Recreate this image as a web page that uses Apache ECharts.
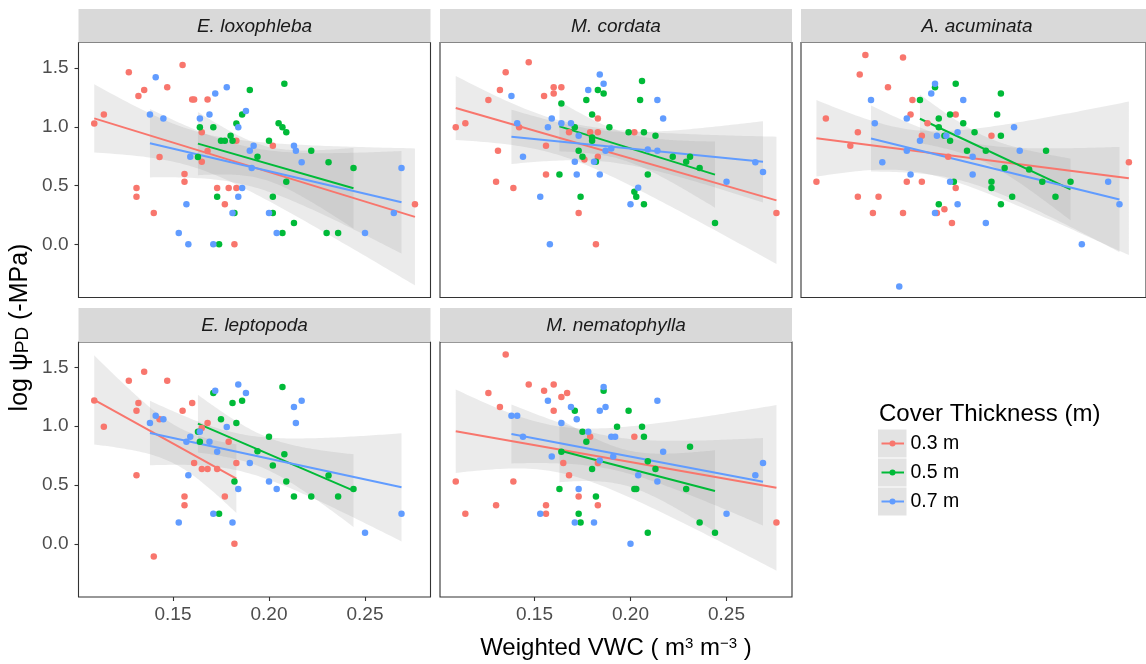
<!DOCTYPE html>
<html><head><meta charset="utf-8">
<script src="https://cdn.jsdelivr.net/npm/echarts@6/dist/echarts.min.js"></script>
<style>html,body{margin:0;padding:0;background:#fff}#c{width:1146px;height:664px}</style>
</head><body><div id="c"></div>
<script>
// ---------- data ----------
const panelNames = ['E. loxophleba', 'M. cordata', 'A. acuminata', 'E. leptopoda', 'M. nematophylla'];
const groupNames = ['0.3 m', '0.5 m', '0.7 m'];
const groupColors = ['#F8766D', '#00BA38', '#619CFF'];
const xTicks = [0.15, 0.20, 0.25];
const yTicks = [0.0, 0.5, 1.0, 1.5];
const legendTitle = 'Cover Thickness (m)';

const lox03 = [[0.109,1.027],[0.114,1.104],[0.127,1.463],[0.155,1.526],[0.135,1.313],[0.132,1.262],[0.147,1.336],[0.160,1.231],[0.161,1.231],[0.168,1.231],[0.165,0.954],[0.183,0.880],[0.202,0.838],[0.143,0.742],[0.165,0.702],[0.168,0.793],[0.156,0.597],[0.156,0.532],[0.131,0.478],[0.131,0.405],[0.140,0.266],[0.173,0.478],[0.179,0.478],[0.183,0.478],[0.177,0.340],[0.182,0.000],[0.276,0.340]];
const lox05 = [[0.208,1.367],[0.190,1.313],[0.186,1.104],[0.183,1.027],[0.164,0.996],[0.171,0.996],[0.205,1.030],[0.207,0.996],[0.209,0.954],[0.180,0.923],[0.175,0.880],[0.177,0.880],[0.181,0.880],[0.200,0.880],[0.222,0.795],[0.194,0.744],[0.163,0.742],[0.231,0.699],[0.244,0.648],[0.209,0.532],[0.173,0.405],[0.202,0.405],[0.182,0.266],[0.202,0.266],[0.213,0.181],[0.207,0.096],[0.230,0.096],[0.236,0.096],[0.174,0.000]];
const lox07 = [[0.141,1.421],[0.178,1.336],[0.172,1.282],[0.188,1.135],[0.138,1.104],[0.145,1.070],[0.169,1.104],[0.164,1.070],[0.184,0.996],[0.192,0.838],[0.190,0.795],[0.213,0.838],[0.214,0.795],[0.159,0.744],[0.217,0.699],[0.191,0.648],[0.269,0.648],[0.186,0.478],[0.184,0.405],[0.157,0.340],[0.181,0.266],[0.200,0.266],[0.265,0.266],[0.153,0.096],[0.204,0.096],[0.250,0.096],[0.158,0.000],[0.171,0.000]];

const cor03 = [[0.147,1.548],[0.135,1.463],[0.132,1.313],[0.126,1.228],[0.155,1.262],[0.160,1.282],[0.160,1.336],[0.164,1.336],[0.183,1.070],[0.109,0.996],[0.114,1.030],[0.142,0.996],[0.168,0.954],[0.179,0.954],[0.183,0.954],[0.202,0.954],[0.156,0.838],[0.131,0.795],[0.176,0.722],[0.183,0.744],[0.156,0.594],[0.130,0.532],[0.139,0.478],[0.173,0.266],[0.182,0.000],[0.276,0.266]];
const cor05 = [[0.206,1.390],[0.183,1.313],[0.186,1.282],[0.164,1.197],[0.177,1.228],[0.205,1.228],[0.180,1.104],[0.171,0.996],[0.189,0.996],[0.199,0.954],[0.207,0.954],[0.213,0.923],[0.180,0.880],[0.180,0.909],[0.173,0.795],[0.175,0.744],[0.182,0.702],[0.163,0.594],[0.209,0.594],[0.222,0.744],[0.231,0.744],[0.229,0.702],[0.236,0.648],[0.174,0.405],[0.202,0.447],[0.203,0.405],[0.207,0.340],[0.244,0.181]];
const cor07 = [[0.184,1.444],[0.186,1.367],[0.178,1.313],[0.138,1.262],[0.214,1.228],[0.217,1.070],[0.159,1.070],[0.141,1.030],[0.157,0.996],[0.164,1.030],[0.169,1.030],[0.173,0.923],[0.190,0.815],[0.187,0.795],[0.209,0.807],[0.214,0.795],[0.144,0.744],[0.171,0.702],[0.181,0.702],[0.172,0.594],[0.184,0.594],[0.204,0.481],[0.153,0.405],[0.200,0.340],[0.250,0.532],[0.265,0.699],[0.269,0.614],[0.158,0.000]];

const acu03 = [[0.135,1.610],[0.155,1.590],[0.132,1.444],[0.147,1.336],[0.160,1.228],[0.159,1.104],[0.183,1.104],[0.114,1.070],[0.168,1.030],[0.131,0.954],[0.165,0.923],[0.202,0.923],[0.127,0.838],[0.179,0.744],[0.275,0.699],[0.109,0.532],[0.157,0.532],[0.165,0.532],[0.183,0.478],[0.131,0.405],[0.142,0.405],[0.139,0.266],[0.155,0.266],[0.173,0.266],[0.177,0.297],[0.181,0.181]];
const acu05 = [[0.183,1.367],[0.172,1.336],[0.207,1.282],[0.164,1.228],[0.180,1.104],[0.205,1.104],[0.174,1.070],[0.187,1.030],[0.174,0.996],[0.193,0.954],[0.177,0.923],[0.180,0.880],[0.207,0.923],[0.189,0.795],[0.199,0.795],[0.231,0.795],[0.209,0.648],[0.222,0.637],[0.229,0.532],[0.202,0.532],[0.202,0.478],[0.182,0.532],[0.213,0.405],[0.236,0.405],[0.174,0.340],[0.207,0.340],[0.244,0.532]];
const acu07 = [[0.172,1.367],[0.170,1.282],[0.187,1.228],[0.138,1.228],[0.157,1.070],[0.140,1.030],[0.184,0.954],[0.214,0.996],[0.173,0.923],[0.178,0.923],[0.164,0.880],[0.157,0.795],[0.217,0.795],[0.192,0.744],[0.144,0.699],[0.159,0.594],[0.192,0.594],[0.180,0.532],[0.264,0.532],[0.184,0.340],[0.270,0.340],[0.172,0.266],[0.199,0.181],[0.250,0.000],[0.153,-0.359]];

const lep03 = [[0.109,1.220],[0.114,0.996],[0.127,1.387],[0.135,1.463],[0.147,1.387],[0.132,1.197],[0.131,1.132],[0.155,1.132],[0.160,1.197],[0.143,1.059],[0.168,1.027],[0.165,0.985],[0.179,0.869],[0.161,0.688],[0.165,0.637],[0.168,0.637],[0.173,0.637],[0.183,0.688],[0.131,0.583],[0.156,0.402],[0.156,0.328],[0.177,0.402],[0.140,-0.108],[0.182,0.000]];
const lep05 = [[0.207,1.333],[0.171,1.282],[0.181,1.197],[0.186,1.217],[0.175,1.059],[0.183,1.027],[0.163,0.954],[0.164,0.869],[0.200,0.911],[0.194,0.787],[0.208,0.761],[0.202,0.665],[0.231,0.580],[0.182,0.529],[0.209,0.529],[0.244,0.467],[0.213,0.402],[0.222,0.402],[0.236,0.402],[0.174,0.255]];
const lep07 = [[0.184,1.356],[0.188,1.282],[0.172,1.302],[0.217,1.217],[0.213,1.163],[0.214,1.027],[0.138,1.027],[0.141,1.090],[0.145,1.059],[0.178,0.994],[0.164,0.954],[0.159,0.911],[0.157,0.869],[0.169,0.869],[0.173,0.784],[0.190,0.688],[0.158,0.583],[0.200,0.529],[0.184,0.467],[0.204,0.467],[0.171,0.255],[0.153,0.181],[0.181,0.181],[0.269,0.255],[0.250,0.093]];

const nem03 = [[0.135,1.610],[0.126,1.282],[0.132,1.163],[0.147,1.356],[0.155,1.302],[0.160,1.356],[0.164,1.248],[0.167,1.282],[0.160,1.132],[0.179,0.911],[0.202,0.911],[0.165,0.688],[0.168,0.583],[0.183,0.688],[0.109,0.529],[0.139,0.529],[0.173,0.402],[0.130,0.328],[0.156,0.328],[0.183,0.328],[0.114,0.255],[0.156,0.255],[0.276,0.181]];
const nem05 = [[0.186,1.302],[0.171,1.132],[0.199,1.132],[0.193,0.996],[0.206,0.996],[0.207,0.911],[0.175,0.954],[0.177,0.869],[0.231,0.826],[0.164,0.784],[0.209,0.702],[0.213,0.637],[0.180,0.637],[0.163,0.467],[0.202,0.467],[0.203,0.467],[0.229,0.467],[0.182,0.402],[0.173,0.255],[0.174,0.181],[0.236,0.181],[0.244,0.093],[0.209,0.093]];
const nem07 = [[0.186,1.333],[0.157,1.217],[0.169,1.163],[0.184,1.132],[0.187,1.163],[0.214,1.217],[0.138,1.090],[0.141,1.090],[0.172,1.059],[0.164,1.027],[0.144,0.911],[0.178,0.954],[0.190,0.911],[0.192,0.911],[0.217,0.784],[0.159,0.742],[0.191,0.742],[0.184,0.708],[0.204,0.583],[0.214,0.529],[0.269,0.688],[0.265,0.583],[0.173,0.467],[0.153,0.255],[0.250,0.255],[0.171,0.181],[0.181,0.181],[0.200,0.000]];

const panelData = [
  [lox03, lox05, lox07],
  [cor03, cor05, cor07],
  [acu03, acu05, acu07],
  [lep03, lep05, lep07],
  [nem03, nem05, nem07]
];

// ---------- layout / style ----------
const FONT = '"Liberation Sans", Arial, sans-serif';
const X_MIN = 0.1008, X_MAX = 0.2841, Y_MIN = -0.453, Y_MAX = 1.717;
const colLeft = [78.5, 440, 801], rowTop = [42.5, 342], W = 352, H = 255;
const stripTop = [9, 308];
const pos = [[0,0],[1,0],[2,0],[0,1],[1,1]];
const BAND_FILL = 'rgba(153,153,153,0.2)';

// ---------- linear fit with 95% CI (as geom_smooth(method = "lm")) ----------
function tq975(df) {
  const z = 1.959964;
  const g1 = (z**3 + z) / 4;
  const g2 = (5*z**5 + 16*z**3 + 3*z) / 96;
  const g3 = (3*z**7 + 19*z**5 + 17*z**3 - 15*z) / 384;
  return z + g1/df + g2/df**2 + g3/df**3;
}
function lmFit(pts) {
  const n = pts.length;
  let sx = 0, sy = 0;
  pts.forEach(p => { sx += p[0]; sy += p[1]; });
  const mx = sx/n, my = sy/n;
  let sxx = 0, sxy = 0;
  pts.forEach(p => { sxx += (p[0]-mx)**2; sxy += (p[0]-mx)*(p[1]-my); });
  const b = sxy/sxx, a = my - b*mx;
  let sse = 0;
  pts.forEach(p => { sse += (p[1] - a - b*p[0])**2; });
  const s = Math.sqrt(sse/(n-2));
  const t = tq975(n-2);
  const xs = pts.map(p => p[0]);
  const x0 = Math.min(...xs), x1 = Math.max(...xs);
  const samples = [];
  const N = 80;
  for (let i = 0; i < N; i++) {
    const x = x0 + (x1-x0)*i/(N-1);
    const yh = a + b*x;
    const se = s*Math.sqrt(1/n + (x-mx)**2/sxx);
    samples.push([x, yh - t*se, yh + t*se, yh]);
  }
  return {samples, line: [[x0, a+b*x0],[x1, a+b*x1]]};
}

const grids = [], xAxes = [], yAxes = [], series = [];
panelData.forEach((groups, i) => {
  const [c, r] = pos[i];
  grids.push({left: colLeft[c], top: rowTop[r], width: W, height: H, show: true,
    borderColor: '#333333', borderWidth: 1.1, backgroundColor: '#ffffff'});
  const showX = r === 1, showY = c === 0;
  xAxes.push({gridIndex: i, type: 'value', min: X_MIN, max: X_MAX, position: 'bottom',
    axisLine: {show: false, onZero: false}, splitLine: {show: false},
    axisTick: {show: showX, customValues: xTicks, length: 4, lineStyle: {color: '#333333', width: 1.1}},
    axisLabel: {show: showX, customValues: xTicks, formatter: v => v.toFixed(2),
      color: '#4d4d4d', fontSize: 19, fontFamily: FONT, margin: 8}});
  yAxes.push({gridIndex: i, type: 'value', min: Y_MIN, max: Y_MAX, position: 'left',
    axisLine: {show: false, onZero: false}, splitLine: {show: false},
    axisTick: {show: showY, customValues: yTicks, length: 4, lineStyle: {color: '#333333', width: 1.1}},
    axisLabel: {show: showY, customValues: yTicks, formatter: v => v.toFixed(1),
      color: '#4d4d4d', fontSize: 19, fontFamily: FONT, margin: 10}});
  groups.forEach((pts, g) => {
    series.push({type: 'scatter', xAxisIndex: i, yAxisIndex: i, data: pts, symbolSize: 6.5,
      itemStyle: {color: groupColors[g], opacity: 1}, silent: true, z: 2});
  });
  groups.forEach((pts, g) => {
    const fit = lmFit(pts);
    const smp = fit.samples;
    series.push({type: 'custom', xAxisIndex: i, yAxisIndex: i, silent: true, z: 2,
      data: [[smp[0][0], smp[0][3]]],
      renderItem: (params, api) => {
        const points = [];
        smp.forEach(s => points.push(api.coord([s[0], s[2]])));
        for (let k = smp.length-1; k >= 0; k--) points.push(api.coord([smp[k][0], smp[k][1]]));
        return {type: 'polygon', shape: {points}, style: {fill: BAND_FILL}, silent: true};
      }});
    series.push({type: 'line', xAxisIndex: i, yAxisIndex: i, data: fit.line, showSymbol: false,
      lineStyle: {color: groupColors[g], width: 2}, silent: true, z: 2});
  });
});

// ---------- strips, legend, axis titles ----------
const graphics = [];
pos.forEach(([c, r], i) => {
  const top = stripTop[r], h = rowTop[r] - stripTop[r];
  graphics.push({type: 'rect', shape: {x: colLeft[c], y: top, width: W, height: h},
    style: {fill: '#d9d9d9'}, silent: true});
  graphics.push({type: 'text', x: colLeft[c] + W/2, y: top + h/2 + 1, silent: true,
    style: {text: panelNames[i], fontSize: 19, fontStyle: 'italic', fontFamily: FONT,
      fill: '#1a1a1a', align: 'center', verticalAlign: 'middle'}});
});
graphics.push({type: 'text', x: 879, y: 414, silent: true,
  style: {text: legendTitle, fontSize: 24, fontFamily: FONT, fill: '#000', align: 'left', verticalAlign: 'middle'}});
groupNames.forEach((name, g) => {
  const y0 = 429.5 + g*29;
  graphics.push({type: 'rect', shape: {x: 878, y: y0, width: 28.5, height: 28}, style: {fill: '#e3e3e3'}, silent: true});
  graphics.push({type: 'line', shape: {x1: 881.5, y1: y0+14, x2: 904, y2: y0+14},
    style: {stroke: groupColors[g], lineWidth: 2}, silent: true});
  graphics.push({type: 'circle', shape: {cx: 892.5, cy: y0+14, r: 3}, style: {fill: groupColors[g]}, silent: true});
  graphics.push({type: 'text', x: 910.5, y: y0+14.5, silent: true,
    style: {text: name, fontSize: 19.5, fontFamily: FONT, fill: '#000', align: 'left', verticalAlign: 'middle'}});
});
graphics.push({type: 'text', x: 616, y: 648, silent: true,
  style: {text: 'Weighted VWC ( m{s|3} m{s|\u22123} )', fontSize: 24, fontFamily: FONT, fill: '#000',
    align: 'center', verticalAlign: 'middle',
    rich: {s: {fontSize: 15, fontFamily: FONT, fill: '#000', verticalAlign: 'top'}}}});
graphics.push({type: 'text', x: 20, y: 327.5, rotation: Math.PI/2, silent: true,
  style: {text: 'log \u03c8{d|PD} (-MPa)', fontSize: 25, fontFamily: FONT, fill: '#000',
    align: 'center', verticalAlign: 'middle',
    rich: {d: {fontSize: 19, fontFamily: FONT, fill: '#000', verticalAlign: 'bottom'}}}});

const chart = echarts.init(document.getElementById('c'), null, {renderer: 'canvas'});
chart.setOption({
  animation: false,
  backgroundColor: '#ffffff',
  grid: grids, xAxis: xAxes, yAxis: yAxes, series,
  graphic: graphics
});
</script></body></html>
